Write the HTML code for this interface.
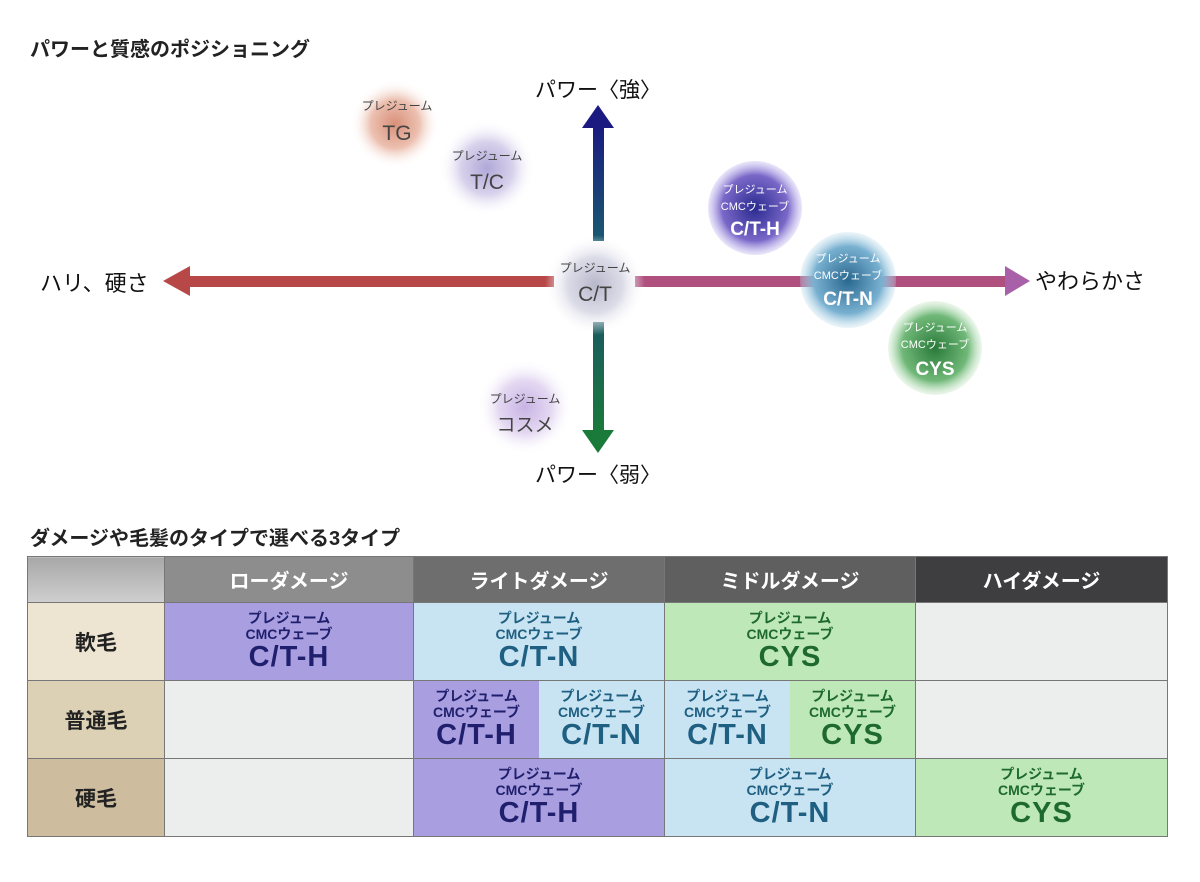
<!DOCTYPE html>
<html><head><meta charset="utf-8"><style>
body{margin:0;background:#fff;width:1200px;height:882px;overflow:hidden;font-family:"Liberation Sans","Noto Sans CJK JP",sans-serif}
svg{position:absolute;left:0;top:0}
.tbl{position:absolute;left:27px;top:556px;border-collapse:collapse;table-layout:fixed;width:1140px}
.tbl td{border:1px solid #777;padding:0;text-align:center;vertical-align:middle;font-weight:bold}
.h td{height:45px;color:#fff;font-size:20px}
.r td{height:77px}
.rh{font-size:21px;color:#222}
.p{line-height:1;display:inline-block}
.p .a{font-size:14px;display:block}
.p .b{font-size:14px;display:block;margin-top:2px}
.p .n{font-size:29px;display:block;margin-top:2px;letter-spacing:1px}
.pu{background:#a99ee0;color:#1f1f6e}
.bl{background:#c8e4f2;color:#1e5f82}
.gr{background:#bfe8b8;color:#1d6a2c}
.em{background:#eceeed}
.split{display:flex;height:77px}
.split>div{flex:1;display:flex;align-items:center;justify-content:center}
</style></head><body>
<svg width="1200" height="882">
<defs>
<radialGradient id="gTG"><stop offset="0" stop-color="#d9907a"/><stop offset=".55" stop-color="#ecc0b0"/><stop offset="1" stop-color="#fff" stop-opacity="0"/></radialGradient>
<radialGradient id="gTC"><stop offset="0" stop-color="#b0a8d8"/><stop offset=".55" stop-color="#d8d2ec"/><stop offset="1" stop-color="#fff" stop-opacity="0"/></radialGradient>
<radialGradient id="gCT"><stop offset="0" stop-color="#b8b8cc"/><stop offset=".55" stop-color="#dcdce8"/><stop offset="1" stop-color="#fff" stop-opacity="0"/></radialGradient>
<radialGradient id="gCO"><stop offset="0" stop-color="#c8b4e4"/><stop offset=".55" stop-color="#e4d8f2"/><stop offset="1" stop-color="#fff" stop-opacity="0"/></radialGradient>
<radialGradient id="gH"><stop offset="0" stop-color="#2a2a90"/><stop offset=".7" stop-color="#7a68c8"/><stop offset="1" stop-color="#b8acec" stop-opacity=".3"/></radialGradient>
<radialGradient id="gN"><stop offset="0" stop-color="#2a6890"/><stop offset=".7" stop-color="#78b0d0"/><stop offset="1" stop-color="#bcdcec" stop-opacity=".3"/></radialGradient>
<radialGradient id="gY"><stop offset="0" stop-color="#2a7a3a"/><stop offset=".7" stop-color="#70b878"/><stop offset="1" stop-color="#c0e4c0" stop-opacity=".3"/></radialGradient>
<linearGradient id="up" x1="0" y1="0" x2="0" y2="1"><stop offset="0" stop-color="#1a1a80"/><stop offset="1" stop-color="#1a5a70"/></linearGradient>
<linearGradient id="dn" x1="0" y1="0" x2="0" y2="1"><stop offset="0" stop-color="#1a5a60"/><stop offset="1" stop-color="#1a7a3a"/></linearGradient>
</defs>
<text x="30" y="56" font-size="20" font-weight="bold" fill="#222">パワーと質感のポジショニング</text>
<text x="30" y="545" font-size="20" font-weight="bold" fill="#222">ダメージや毛髪のタイプで選べる3タイプ</text>
<rect x="180" y="276" width="374" height="11" fill="#b84848"/>
<polygon points="163,281 190,266 190,296" fill="#b84848"/>
<rect x="635" y="276" width="375" height="11" fill="#b0507e"/>
<polygon points="1030,281 1005,266 1005,296" fill="#a860a8"/>
<rect x="593" y="125" width="11" height="116" fill="url(#up)"/>
<polygon points="598,105 582,128 614,128" fill="#1a1a80"/>
<rect x="593" y="322" width="11" height="112" fill="url(#dn)"/>
<polygon points="598,453 582,430 614,430" fill="#1a7a3a"/>
<text x="598" y="97" font-size="21" text-anchor="middle" fill="#111">パワー〈強〉</text>
<text x="598" y="482" font-size="21" text-anchor="middle" fill="#111">パワー〈弱〉</text>
<text x="40" y="291" font-size="22" fill="#111">ハリ、硬さ</text>
<text x="1035" y="289" font-size="22" fill="#111">やわらかさ</text>
<circle cx="395" cy="124" r="44" fill="url(#gTG)"/>
<text x="397" y="110" font-size="12" text-anchor="middle" fill="#444">プレジューム</text>
<text x="397" y="140" font-size="21" text-anchor="middle" fill="#444">TG</text>
<circle cx="487" cy="168" r="48" fill="url(#gTC)"/>
<text x="487" y="160" font-size="12" text-anchor="middle" fill="#444">プレジューム</text>
<text x="487" y="189" font-size="21" text-anchor="middle" fill="#444">T/C</text>
<circle cx="595" cy="285" r="50" fill="url(#gCT)"/>
<text x="595" y="272" font-size="12" text-anchor="middle" fill="#444">プレジューム</text>
<text x="595" y="301" font-size="21" text-anchor="middle" fill="#444">C/T</text>
<circle cx="525" cy="407" r="48" fill="url(#gCO)"/>
<text x="525" y="403" font-size="12" text-anchor="middle" fill="#444">プレジューム</text>
<text x="525" y="431" font-size="19" text-anchor="middle" fill="#444">コスメ</text>
<circle cx="755" cy="208" r="47" fill="url(#gH)"/>
<text x="755" y="193" font-size="11" text-anchor="middle" fill="#fff">プレジューム</text>
<text x="755" y="210" font-size="11" text-anchor="middle" fill="#fff">CMCウェーブ</text>
<text x="755" y="235" font-size="19" font-weight="bold" text-anchor="middle" fill="#fff">C/T-H</text>
<circle cx="848" cy="280" r="48" fill="url(#gN)"/>
<text x="848" y="262" font-size="11" text-anchor="middle" fill="#fff">プレジューム</text>
<text x="848" y="279" font-size="11" text-anchor="middle" fill="#fff">CMCウェーブ</text>
<text x="848" y="305" font-size="19" font-weight="bold" text-anchor="middle" fill="#fff">C/T-N</text>
<circle cx="935" cy="348" r="47" fill="url(#gY)"/>
<text x="935" y="331" font-size="11" text-anchor="middle" fill="#fff">プレジューム</text>
<text x="935" y="348" font-size="11" text-anchor="middle" fill="#fff">CMCウェーブ</text>
<text x="935" y="375" font-size="19" font-weight="bold" text-anchor="middle" fill="#fff">CYS</text>
</svg>
<table class="tbl">
<colgroup><col style="width:137px"><col style="width:249px"><col style="width:251px"><col style="width:251px"><col style="width:252px"></colgroup>
<tr class="h"><td style="background:linear-gradient(#a8a8a8,#cfcfcf)"></td><td style="background:#8d8d8d">ローダメージ</td><td style="background:#6e6e6e">ライトダメージ</td><td style="background:#5f5f5f">ミドルダメージ</td><td style="background:#3e3e40">ハイダメージ</td></tr>
<tr class="r"><td class="rh" style="background:#ede4d2">軟毛</td>
<td class="pu"><span class="p"><span class="a">プレジューム</span><span class="b">CMCウェーブ</span><span class="n">C/T-H</span></span></td>
<td class="bl"><span class="p"><span class="a">プレジューム</span><span class="b">CMCウェーブ</span><span class="n">C/T-N</span></span></td>
<td class="gr"><span class="p"><span class="a">プレジューム</span><span class="b">CMCウェーブ</span><span class="n">CYS</span></span></td>
<td class="em"></td></tr>
<tr class="r"><td class="rh" style="background:#ddd1b5">普通毛</td>
<td class="em"></td>
<td><div class="split"><div class="pu"><span class="p"><span class="a">プレジューム</span><span class="b">CMCウェーブ</span><span class="n">C/T-H</span></span></div><div class="bl"><span class="p"><span class="a">プレジューム</span><span class="b">CMCウェーブ</span><span class="n">C/T-N</span></span></div></div></td>
<td><div class="split"><div class="bl"><span class="p"><span class="a">プレジューム</span><span class="b">CMCウェーブ</span><span class="n">C/T-N</span></span></div><div class="gr"><span class="p"><span class="a">プレジューム</span><span class="b">CMCウェーブ</span><span class="n">CYS</span></span></div></div></td>
<td class="em"></td></tr>
<tr class="r"><td class="rh" style="background:#cdbd9e">硬毛</td>
<td class="em"></td>
<td class="pu"><span class="p"><span class="a">プレジューム</span><span class="b">CMCウェーブ</span><span class="n">C/T-H</span></span></td>
<td class="bl"><span class="p"><span class="a">プレジューム</span><span class="b">CMCウェーブ</span><span class="n">C/T-N</span></span></td>
<td class="gr"><span class="p"><span class="a">プレジューム</span><span class="b">CMCウェーブ</span><span class="n">CYS</span></span></td></tr>
</table>
</body></html>
